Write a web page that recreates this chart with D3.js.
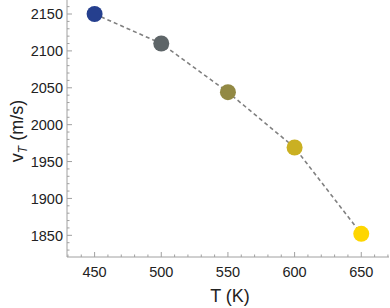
<!DOCTYPE html>
<html>
<head>
<meta charset="utf-8">
<script src="https://cdn.jsdelivr.net/npm/d3@7"></script>
<style>
  body { margin: 0; background: #fff; }
  svg text { font-family: "Liberation Sans", Arial, sans-serif; }
</style>
</head>
<body>
<div id="chart"></div>
<script>
// data
var temps = [450, 500, 550, 600, 650];
var speeds = [2150, 2110, 2044, 1969, 1852];
var colors = ["#253f8e", "#5e6568", "#928944", "#cab022", "#fed600"];
var xTicks = [450, 500, 550, 600, 650];
var yTicks = [1850, 1900, 1950, 2000, 2050, 2100, 2150];

(function () {
var width = 390, height = 308;
var padL = 67, padT = 0, padR = 389, padB = 257;

var svg = d3.select("#chart").append("svg")
    .attr("width", width)
    .attr("height", height);

var x = d3.scaleLinear().domain([429.3, 670.8]).range([padL, padR]);
var y = d3.scaleLinear().domain([1820.6, 2169]).range([padB, padT]);

var axisColor = "#a0a0a0";

// minor tick values every 10
function steps(step, lo, hi) {
  var out = [];
  for (var v = Math.ceil(lo / step) * step; v <= hi; v += step) out.push(v);
  return out;
}

var xMinor = steps(10, 430, 670);
var yMinor = steps(10, 1830, 2160);

var g = svg.append("g");

// ticks point inward
g.selectAll(".xminor").data(xMinor).enter().append("line")
  .attr("x1", function(d) { return x(d); })
  .attr("x2", function(d) { return x(d); })
  .attr("y1", padB)
  .attr("y2", function(d) { return xTicks.indexOf(d) >= 0 ? padB - 5 : padB - 2.5; })
  .attr("stroke", axisColor).attr("stroke-width", 1);

g.selectAll(".yminor").data(yMinor).enter().append("line")
  .attr("y1", function(d) { return y(d); })
  .attr("y2", function(d) { return y(d); })
  .attr("x1", padL)
  .attr("x2", function(d) { return yTicks.indexOf(d) >= 0 ? padL + 5 : padL + 2.5; })
  .attr("stroke", axisColor).attr("stroke-width", 1);

// axis lines
g.append("line").attr("x1", padL).attr("x2", padR).attr("y1", padB).attr("y2", padB)
  .attr("stroke", axisColor).attr("stroke-width", 1);
g.append("line").attr("x1", padL).attr("x2", padL).attr("y1", padT).attr("y2", padB)
  .attr("stroke", axisColor).attr("stroke-width", 1);

// tick labels
g.selectAll(".xlab").data(xTicks).enter().append("text")
  .attr("x", function(d) { return x(d); })
  .attr("y", 277)
  .attr("text-anchor", "middle")
  .attr("font-size", 14.5)
  .attr("fill", "#222")
  .text(function(d) { return d; });

g.selectAll(".ylab").data(yTicks).enter().append("text")
  .attr("x", 63)
  .attr("y", function(d) { return y(d); })
  .attr("dy", "0.36em")
  .attr("text-anchor", "end")
  .attr("font-size", 14.5)
  .attr("fill", "#222")
  .text(function(d) { return d; });

// axis titles
svg.append("text")
  .attr("x", 230).attr("y", 302)
  .attr("text-anchor", "middle")
  .attr("font-size", 18)
  .attr("fill", "#222")
  .text("T (K)");

var yt = svg.append("text")
  .attr("transform", "translate(23,131) rotate(-90)")
  .attr("text-anchor", "middle")
  .attr("font-size", 18)
  .attr("fill", "#222");
yt.append("tspan").text("v");
yt.append("tspan").attr("font-size", 12).attr("font-style", "italic").attr("dy", 4).text("T");
yt.append("tspan").attr("dy", -4).text(" (m/s)");

// dashed line through the points
var pts = temps.map(function(t, i) { return [t, speeds[i]]; });
var line = d3.line().x(function(d) { return x(d[0]); }).y(function(d) { return y(d[1]); });

svg.append("path")
  .datum(pts)
  .attr("d", line)
  .attr("fill", "none")
  .attr("stroke", "#808080")
  .attr("stroke-width", 1.6)
  .attr("stroke-dasharray", "4,3");

svg.selectAll(".pt").data(pts).enter().append("circle")
  .attr("cx", function(d) { return x(d[0]); })
  .attr("cy", function(d) { return y(d[1]); })
  .attr("r", 8)
  .attr("fill", function(d, i) { return colors[i]; });
})();
</script>
</body>
</html>
